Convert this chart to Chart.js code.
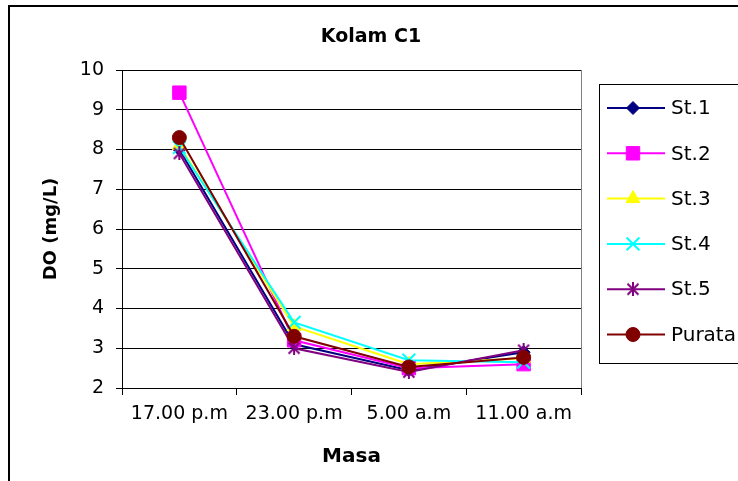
<!DOCTYPE html>
<html>
<head>
<meta charset="utf-8">
<title>Kolam C1</title>
<script src="https://cdn.jsdelivr.net/npm/chart.js@4.4.0/dist/chart.umd.min.js"></script>
<style>
  html, body { margin: 0; padding: 0; background: #fff; }
  #wrap { width: 738px; height: 481px; }
</style>
</head>
<body>
<div id="wrap"><canvas id="doChart" width="738" height="481"></canvas></div>
<script>
const categories = ["17.00 p.m", "23.00 p.m", "5.00 a.m", "11.00 a.m"];
const st1 = [8.0, 3.1, 2.45, 2.9];
const st2 = [9.43, 3.2, 2.5, 2.6];
const st3 = [8.1, 3.55, 2.6, 2.75];
const st4 = [8.05, 3.65, 2.7, 2.65];
const st5 = [7.9, 3.0, 2.4, 2.95];
const purata = [8.3, 3.3, 2.53, 2.77];
const yTicks = [2, 3, 4, 5, 6, 7, 8, 9, 10];

const FONT = "'DejaVu Sans', Arial, sans-serif";

// asterisk marker: vertical bar plus an X
const asterisk = (() => {
  const c = document.createElement("canvas");
  c.width = 14;
  c.height = 14;
  const g = c.getContext("2d");
  g.strokeStyle = "#800080";
  g.lineWidth = 2;
  g.beginPath();
  g.moveTo(7, 0); g.lineTo(7, 14);
  g.moveTo(1.5, 1.5); g.lineTo(12.5, 12.5);
  g.moveTo(12.5, 1.5); g.lineTo(1.5, 12.5);
  g.stroke();
  return c;
})();

const seriesDefs = [
  { label: "St.1", data: st1, color: "#000080", style: "rectRot", radius: 6.5, bw: 1 },
  { label: "St.2", data: st2, color: "#FF00FF", style: "rect", radius: 9.5, bw: 1 },
  { label: "St.3", data: st3, color: "#FFFF00", style: "triangle", radius: 8, bw: 1 },
  { label: "St.4", data: st4, color: "#00FFFF", style: "crossRot", radius: 9, bw: 2 },
  { label: "St.5", data: st5, color: "#800080", style: asterisk, radius: 7, bw: 0 },
  { label: "Purata", data: purata, color: "#800000", style: "circle", radius: 7, bw: 1 },
];

const datasets = seriesDefs.map((s, i) => ({
  label: s.label,
  data: s.data,
  borderColor: s.color,
  backgroundColor: s.color,
  borderWidth: 2,
  tension: 0,
  pointStyle: s.style,
  pointRadius: s.radius,
  pointHoverRadius: s.radius,
  pointBackgroundColor: s.color,
  pointBorderColor: s.color,
  pointBorderWidth: s.bw,
  order: seriesDefs.length - i,
}));

const framePlugin = {
  id: "frame",
  beforeDatasetsDraw(chart) {
    const { ctx, chartArea: a } = chart;
    ctx.save();
    ctx.strokeStyle = "#808080";
    ctx.lineWidth = 1;
    ctx.beginPath();
    ctx.moveTo(Math.round(a.right) + 0.5, a.top);
    ctx.lineTo(Math.round(a.right) + 0.5, a.bottom);
    ctx.stroke();
    ctx.restore();
  },
  afterDraw(chart) {
    const { ctx } = chart;
    ctx.save();
    // outer chart border
    ctx.strokeStyle = "#000";
    ctx.lineWidth = 2;
    ctx.beginPath();
    ctx.moveTo(9, 481);
    ctx.lineTo(9, 6);
    ctx.lineTo(738, 6);
    ctx.stroke();

    // title
    ctx.fillStyle = "#000";
    ctx.font = "bold 19px " + FONT;
    ctx.textAlign = "center";
    ctx.textBaseline = "middle";
    ctx.fillText("Kolam C1", 371, 37);

    // legend
    ctx.lineWidth = 1;
    ctx.strokeStyle = "#000";
    ctx.strokeRect(599.5, 84.5, 160, 279);
    ctx.font = "20px " + FONT;
    ctx.textAlign = "left";
    seriesDefs.forEach((s, i) => {
      const y = 108 + i * 45.3;
      ctx.strokeStyle = s.color;
      ctx.lineWidth = 2;
      ctx.beginPath();
      ctx.moveTo(607, y);
      ctx.lineTo(665, y);
      ctx.stroke();
      ctx.fillStyle = s.color;
      ctx.lineWidth = s.bw;
      Chart.helpers.drawPoint(ctx, { pointStyle: s.style, radius: s.radius, rotation: 0, borderWidth: s.bw }, 633, y);
      ctx.fillStyle = "#000";
      ctx.fillText(s.label, 671, y + 1);
    });
    ctx.restore();
  },
};

new Chart(document.getElementById("doChart").getContext("2d"), {
  type: "line",
  data: { labels: categories, datasets },
  options: {
    responsive: false,
    animation: false,
    devicePixelRatio: 1,
    layout: { padding: { left: 41, top: 70, right: 157, bottom: 12 } },
    plugins: {
      legend: { display: false },
      title: { display: false },
      tooltip: { enabled: false },
    },
    scales: {
      x: {
        type: "category",
        offset: true,
        grid: { offset: true, drawOnChartArea: false, drawTicks: true, tickLength: 7, color: "#000" },
        border: { color: "#000", width: 1 },
        ticks: { color: "#000", font: { family: FONT, size: 19 }, padding: 8, maxRotation: 0, autoSkip: false },
        title: { display: true, text: "Masa", color: "#000", font: { family: FONT, size: 20, weight: "bold" }, padding: 0 },
        afterFit(scale) { scale.height = 81; },
      },
      y: {
        min: yTicks[0],
        max: yTicks[yTicks.length - 1],
        afterBuildTicks(scale) { scale.ticks = yTicks.map((v) => ({ value: v })); },
        grid: { color: "#000", lineWidth: 1, tickLength: 6 },
        border: { color: "#000", width: 1 },
        ticks: { color: "#000", font: { family: FONT, size: 19 }, padding: 12 },
        title: { display: true, text: "DO (mg/L)", color: "#000", font: { family: FONT, size: 18, weight: "bold" }, padding: 0 },
        afterFit(scale) { scale.width = 81; },
      },
    },
  },
  plugins: [framePlugin],
});
</script>
</body>
</html>
